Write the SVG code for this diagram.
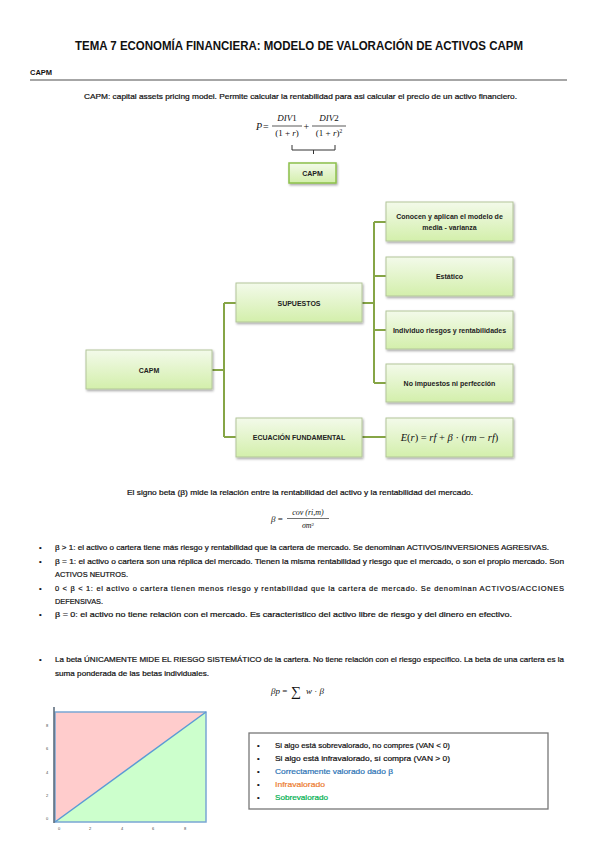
<svg xmlns="http://www.w3.org/2000/svg" width="599" height="848" viewBox="0 0 599 848">
<style>
.t{font-family:"Liberation Sans",Arial,sans-serif;font-size:7.5px;fill:#111;stroke:#111;stroke-width:0.2}
.b{font-weight:bold;stroke:none}
.n{font-family:"Liberation Sans",Arial,sans-serif;font-size:7px;font-weight:bold;fill:#222;text-anchor:middle}
.m{font-family:"Liberation Serif","Times New Roman",serif;fill:#111}
.i{font-style:italic}
.box{fill:url(#g);stroke:#b3c59a;stroke-width:1;filter:url(#sh)}
.con{fill:none;stroke:#86a546;stroke-width:2}
</style>
<defs>
<linearGradient id="g" x1="0" y1="0" x2="0" y2="1">
<stop offset="0" stop-color="#f3faea"/>
<stop offset="1" stop-color="#d3efab"/>
</linearGradient>
<filter id="sh" x="-10%" y="-20%" width="130%" height="150%">
<feDropShadow dx="1" dy="1.5" stdDeviation="0.8" flood-color="#000" flood-opacity="0.35"/>
</filter>
</defs>
<rect width="599" height="848" fill="#fff"/>

<text x="299" y="50" class="t b" text-anchor="middle" textLength="448" lengthAdjust="spacingAndGlyphs" style="font-size:12px">TEMA 7 ECONOMÍA FINANCIERA: MODELO DE VALORACIÓN DE ACTIVOS CAPM</text>
<text x="30" y="75" class="t b" style="font-size:7.5px">CAPM</text>
<line x1="30" y1="80" x2="567" y2="80" stroke="#888" stroke-width="1.5"/>

<text x="84" y="99" class="t" textLength="433" lengthAdjust="spacingAndGlyphs">CAPM: capital assets pricing model. Permite calcular la rentabilidad para asi calcular el precio de un activo financiero.</text>

<g id="formula-p" font-size="9">
<text x="256" y="130" class="m i" font-size="10">P</text>
<text x="263" y="130" class="m" font-size="10">=</text>
<text x="287" y="121" class="m" text-anchor="middle"><tspan class="i">DIV</tspan>1</text>
<line x1="272" y1="126" x2="302" y2="126" stroke="#111" stroke-width="0.7"/>
<text x="287" y="136" class="m" text-anchor="middle">(1 + <tspan class="i">r</tspan>)</text>
<text x="303.5" y="130" class="m" font-size="10">+</text>
<text x="329" y="121" class="m" text-anchor="middle"><tspan class="i">DIV</tspan>2</text>
<line x1="312" y1="126" x2="346" y2="126" stroke="#111" stroke-width="0.7"/>
<text x="329" y="136" class="m" text-anchor="middle">(1 + <tspan class="i">r</tspan>)<tspan font-size="5.5" dy="-3.5">2</tspan></text>
</g>
<path d="M292,145 V150 H335 V145 M313.5,150 V154" fill="none" stroke="#333" stroke-width="1"/>

<g id="capm-small">
<rect x="289" y="163" width="47" height="20" fill="url(#g)" stroke="#8cc04a" stroke-width="1.5" filter="url(#sh)"/>
<text x="312.5" y="176" class="n">CAPM</text>
</g>

<g id="connectors">
<path class="con" d="M212,370 H224 M224,303 V437 M224,303 H236 M224,437 H236"/>
<path class="con" d="M362,303 H374 M374,222 V383 M374,222 H386 M374,276 H386 M374,330 H386 M374,383 H386"/>
<path class="con" d="M362,437 H386"/>
</g>

<g id="node-capm">
<rect class="box" x="86" y="350" width="126" height="39"/>
<text x="149" y="372.5" class="n">CAPM</text>
</g>
<g id="node-supuestos">
<rect class="box" x="236" y="283" width="126" height="39"/>
<text x="299" y="305.5" class="n">SUPUESTOS</text>
</g>
<g id="node-ecuacion">
<rect class="box" x="236" y="418" width="126" height="39"/>
<text x="299" y="440" class="n">ECUACIÓN FUNDAMENTAL</text>
</g>
<g id="node-conocen">
<rect class="box" x="386" y="202" width="127" height="39"/>
<text x="449.5" y="219" class="n">Conocen y aplican el modelo de</text>
<text x="449.5" y="229.5" class="n">media - varianza</text>
</g>
<g id="node-estatico">
<rect class="box" x="386" y="257" width="127" height="39"/>
<text x="449.5" y="279" class="n">Estático</text>
</g>
<g id="node-individuo">
<rect class="box" x="386" y="311" width="127" height="38"/>
<text x="449.5" y="332.5" class="n">Individuo riesgos y rentabilidades</text>
</g>
<g id="node-impuestos">
<rect class="box" x="386" y="364" width="127" height="38"/>
<text x="449.5" y="385.5" class="n">No impuestos ni perfección</text>
</g>
<g id="node-formula">
<rect class="box" x="386" y="418" width="127" height="39"/>
<text x="449.5" y="441" class="m i" font-size="10.5" text-anchor="middle">E<tspan font-style="normal">(</tspan>r<tspan font-style="normal">) = </tspan>rf<tspan font-style="normal"> + </tspan>β<tspan font-style="normal"> · (</tspan>rm<tspan font-style="normal"> − </tspan>rf<tspan font-style="normal">)</tspan></text>
</g>

<text x="127" y="495" class="t" textLength="346" lengthAdjust="spacingAndGlyphs">El signo beta (β) mide la relación entre la rentabilidad del activo y la rentabilidad del mercado.</text>

<g id="formula-beta" font-size="8">
<text x="271" y="522" class="m i" font-size="9">β <tspan font-style="normal">=</tspan></text>
<text x="308" y="515" class="m i" text-anchor="middle">cov (ri,m)</text>
<line x1="287" y1="518.5" x2="329" y2="518.5" stroke="#111" stroke-width="0.6"/>
<text x="308" y="528" class="m i" text-anchor="middle">σm<tspan font-size="5" dy="-2.5" font-style="normal">2</tspan></text>
</g>

<g class="t">
<text x="39" y="550">•</text>
<text x="55" y="550" textLength="494" lengthAdjust="spacingAndGlyphs">β &gt; 1: el activo o cartera tiene más riesgo y rentabilidad que la cartera de mercado. Se denominan ACTIVOS/INVERSIONES AGRESIVAS.</text>
<text x="39" y="564">•</text>
<text x="55" y="564" textLength="509" lengthAdjust="spacingAndGlyphs">β = 1: el activo o cartera son una réplica del mercado. Tienen la misma rentabilidad y riesgo que el mercado, o son el propio mercado. Son</text>
<text x="55" y="577" textLength="73" lengthAdjust="spacingAndGlyphs">ACTIVOS NEUTROS.</text>
<text x="39" y="591">•</text>
<text x="55" y="591" textLength="509" lengthAdjust="spacing">0  &lt;  β  &lt;  1: el activo o cartera tienen menos riesgo y rentabilidad que la cartera de mercado. Se denominan ACTIVOS/ACCIONES</text>
<text x="55" y="604" textLength="48" lengthAdjust="spacingAndGlyphs">DEFENSIVAS.</text>
<text x="39" y="617">•</text>
<text x="55" y="617" textLength="457" lengthAdjust="spacingAndGlyphs">β = 0: el activo no tiene relación con el mercado. Es característico del activo libre de riesgo y del dinero en efectivo.</text>
<text x="39" y="662">•</text>
<text x="55" y="662" textLength="509" lengthAdjust="spacingAndGlyphs">La beta ÚNICAMENTE MIDE EL RIESGO SISTEMÁTICO de la cartera. No tiene relación con el riesgo específico. La beta de una cartera es la</text>
<text x="55" y="676" textLength="154" lengthAdjust="spacingAndGlyphs">suma ponderada de las betas individuales.</text>
</g>

<g id="formula-bp">
<text x="271" y="694" class="m i" font-size="9">βp <tspan font-style="normal">=</tspan></text>
<text x="291" y="696" class="m" font-size="14">∑</text>
<text x="306" y="694" class="m i" font-size="9">w <tspan font-style="normal">·</tspan> β</text>
</g>

<g id="chart">
<rect x="55" y="712" width="151" height="110" fill="#ffcccc"/>
<polygon points="55,822 206,712 206,822" fill="#ccffcc"/>
<rect x="55" y="712" width="151" height="110" fill="none" stroke="#7aa6d4" stroke-width="1.5"/>
<line x1="55" y1="822" x2="206" y2="712" stroke="#5b9bd5" stroke-width="1.5"/>
<line x1="54" y1="707" x2="54" y2="823" stroke="#556677" stroke-width="1.5"/>
<g font-family="Liberation Sans, Arial, sans-serif" font-size="4" fill="#444" text-anchor="middle">
<text x="47" y="727">8</text>
<text x="47" y="750">6</text>
<text x="47" y="774">4</text>
<text x="47" y="797">2</text>
<text x="47" y="820">0</text>
<text x="59" y="830">0</text>
<text x="90" y="830">2</text>
<text x="122" y="830">4</text>
<text x="153" y="830">6</text>
<text x="185" y="830">8</text>
</g>
</g>

<g id="legend">
<rect x="249" y="733" width="299" height="76" fill="#fff" stroke="#777" stroke-width="1.3"/>
<g class="t">
<text x="257" y="748">•</text>
<text x="275" y="748" textLength="175" lengthAdjust="spacingAndGlyphs">Si algo está sobrevalorado, no compres (VAN &lt; 0)</text>
<text x="257" y="761">•</text>
<text x="275" y="761" textLength="175" lengthAdjust="spacingAndGlyphs">Si algo está infravalorado, sí compra  (VAN &gt; 0)</text>
<text x="257" y="774">•</text>
<text x="275" y="774" textLength="118" lengthAdjust="spacingAndGlyphs" style="fill:#2e75b6;stroke:#2e75b6">Correctamente valorado dado β</text>
<text x="257" y="787">•</text>
<text x="275" y="787" textLength="50" lengthAdjust="spacingAndGlyphs" style="fill:#ed7d31;stroke:#ed7d31">Infravalorado</text>
<text x="257" y="800">•</text>
<text x="275" y="800" textLength="53" lengthAdjust="spacingAndGlyphs" style="fill:#00b050;stroke:#00b050">Sobrevalorado</text>
</g>
</g>
</svg>
